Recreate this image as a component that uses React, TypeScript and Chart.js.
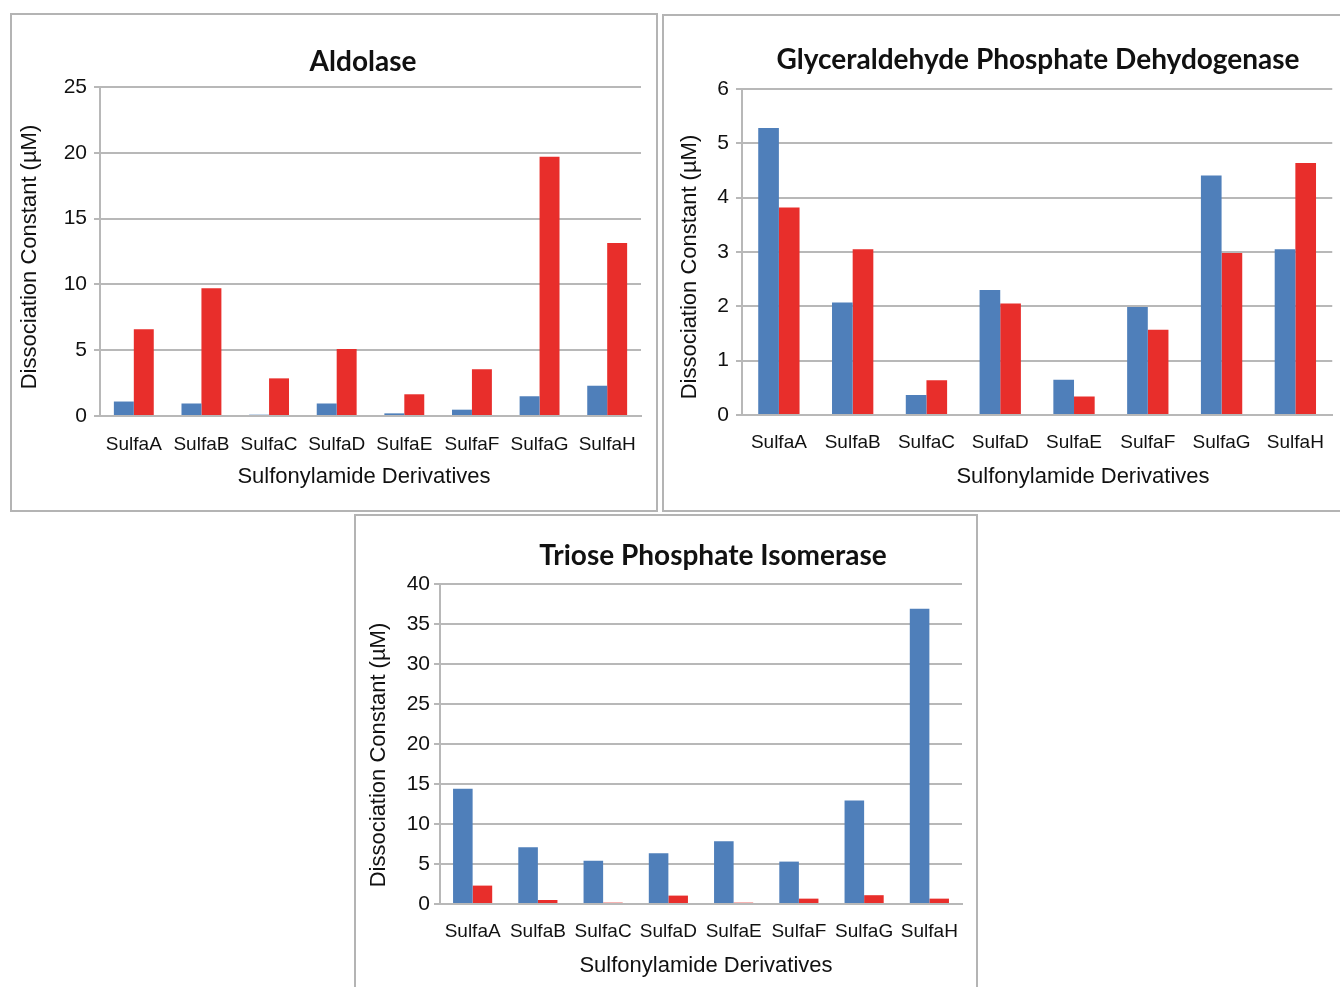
import React, { useEffect, useRef } from 'react';
import { Chart, registerables } from 'chart.js';

Chart.register(...registerables);

const categories = ['SulfaA', 'SulfaB', 'SulfaC', 'SulfaD', 'SulfaE', 'SulfaF', 'SulfaG', 'SulfaH'];

const aldolaseBlue = [1.1, 0.95, 0.1, 0.95, 0.2, 0.48, 1.5, 2.3];
const aldolaseRed = [6.6, 9.7, 2.86, 5.1, 1.65, 3.55, 19.7, 13.15];

const gapdhBlue = [5.28, 2.07, 0.37, 2.3, 0.65, 1.99, 4.41, 3.05];
const gapdhRed = [3.82, 3.05, 0.64, 2.05, 0.34, 1.57, 2.98, 4.64];

const tpiBlue = [14.4, 7.1, 5.4, 6.35, 7.85, 5.3, 12.95, 36.9];
const tpiRed = [2.3, 0.5, 0.17, 1.05, 0.17, 0.67, 1.1, 0.67];

const yTitle = 'Dissociation Constant (\u00B5M)';
const xTitle = 'Sulfonylamide Derivatives';

const BLUE = '#4F7FBA';
const RED = '#E82E2B';
const GRID = '#b8b8b8';
const FONT = '"Liberation Sans", Arial, sans-serif';

type PanelCfg = {
  title: string;
  blue: number[];
  red: number[];
  yMax: number;
  yStep: number;
  box: { left: number; top: number; width: number; height: number };
  plot: { left: number; right: number; top: number; bottom: number };
  titlePos: { x: number; y: number };
  xTitlePos: { x: number; y: number };
  yTitlePos: { x: number; y: number };
  xTickGap: number;
  yTickRight: number;
  catPct: number;
};

const panels: PanelCfg[] = [
  {
    title: 'Aldolase',
    blue: aldolaseBlue,
    red: aldolaseRed,
    yMax: 25,
    yStep: 5,
    box: { left: 10, top: 13, width: 648, height: 499 },
    plot: { left: 90, right: 631, top: 74, bottom: 403 },
    titlePos: { x: 353, y: 49 },
    xTitlePos: { x: 354, y: 464 },
    yTitlePos: { x: 20, y: 244 },
    xTickGap: 17,
    yTickRight: 77,
    catPct: 0.59,
  },
  {
    title: 'Glyceraldehyde Phosphate Dehydogenase',
    blue: gapdhBlue,
    red: gapdhRed,
    yMax: 6,
    yStep: 1,
    box: { left: 662, top: 14, width: 690, height: 498 },
    plot: { left: 80, right: 676, top: 75, bottom: 401 },
    titlePos: { x: 376, y: 46 },
    xTitlePos: { x: 421, y: 463 },
    yTitlePos: { x: 28, y: 253 },
    xTickGap: 16,
    yTickRight: 67,
    catPct: 0.56,
  },
  {
    title: 'Triose Phosphate Isomerase',
    blue: tpiBlue,
    red: tpiRed,
    yMax: 40,
    yStep: 5,
    box: { left: 354, top: 514, width: 624, height: 490 },
    plot: { left: 86, right: 608, top: 70, bottom: 390 },
    titlePos: { x: 359, y: 42 },
    xTitlePos: { x: 352, y: 452 },
    yTitlePos: { x: 25, y: 241 },
    xTickGap: 16,
    yTickRight: 76,
    catPct: 0.6,
  },
];

const panelTextPlugin = {
  id: 'panelText',
  afterDraw(chart: any, _args: any, opts: any) {
    const ctx = chart.ctx;
    ctx.save();
    ctx.textAlign = 'center';
    ctx.textBaseline = 'middle';
    ctx.fillStyle = '#111';
    ctx.font = 'bold 28px Lato, "Open Sans", sans-serif';
    ctx.fillText(opts.title, opts.titlePos.x, opts.titlePos.y);
    ctx.font = '22px ' + FONT;
    ctx.fillText(opts.xTitle, opts.xTitlePos.x, opts.xTitlePos.y);
    ctx.translate(opts.yTitlePos.x, opts.yTitlePos.y);
    ctx.rotate(-Math.PI / 2);
    ctx.fillText(opts.yTitle, 0, 0);
    ctx.restore();
  },
};

function Panel({ cfg }: { cfg: PanelCfg }) {
  const ref = useRef<HTMLCanvasElement | null>(null);
  useEffect(() => {
    if (!ref.current) return;
    const { box, plot } = cfg;
    const canvasH = Math.min(box.height, 987 - box.top);
    const canvasW = Math.min(box.width, 1340 - box.left);
    const xh = 50;
    const chart = new Chart(ref.current, {
      type: 'bar',
      data: {
        labels: categories,
        datasets: [
          { label: 'blue', data: cfg.blue, backgroundColor: BLUE, categoryPercentage: cfg.catPct, barPercentage: 1 },
          { label: 'red', data: cfg.red, backgroundColor: RED, categoryPercentage: cfg.catPct, barPercentage: 1 },
        ],
      },
      plugins: [panelTextPlugin],
      options: {
        animation: false,
        responsive: false,
        maintainAspectRatio: false,
        layout: {
          padding: {
            left: 0,
            top: plot.top,
            right: canvasW - plot.right,
            bottom: canvasH - plot.bottom - xh,
          },
        },
        plugins: {
          legend: { display: false },
          tooltip: { enabled: false },
          title: { display: false },
          panelText: {
            title: cfg.title,
            titlePos: cfg.titlePos,
            xTitle,
            xTitlePos: cfg.xTitlePos,
            yTitle,
            yTitlePos: cfg.yTitlePos,
          },
        } as any,
        scales: {
          x: {
            grid: { display: false, drawTicks: false },
            border: { display: true, color: GRID, width: 2 },
            ticks: {
              color: '#111',
              padding: cfg.xTickGap,
              maxRotation: 0,
              autoSkip: false,
              font: { family: FONT, size: 19 },
            },
            title: { display: false },
            afterFit: (s: any) => {
              s.height = xh;
            },
          },
          y: {
            min: 0,
            max: cfg.yMax,
            grid: { color: GRID, lineWidth: 2, drawTicks: true, tickLength: 6 },
            border: { display: true, color: GRID, width: 2 },
            ticks: {
              stepSize: cfg.yStep,
              color: '#111',
              padding: plot.left - 6 - cfg.yTickRight,
              font: { family: FONT, size: 21 },
            },
            title: { display: false },
            afterFit: (s: any) => {
              s.width = plot.left;
            },
          },
        },
      } as any,
    });
    return () => chart.destroy();
  }, [cfg]);

  const { box } = cfg;
  const canvasH = Math.min(box.height, 987 - box.top);
  const canvasW = Math.min(box.width, 1340 - box.left);
  return (
    <>
      <div
        style={{
          position: 'absolute',
          left: box.left,
          top: box.top,
          width: box.width,
          height: box.height,
          border: '2px solid #b4b4b4',
          boxSizing: 'border-box',
          background: '#fff',
        }}
      />
      <canvas
        ref={ref}
        width={canvasW}
        height={canvasH}
        style={{ position: 'absolute', left: box.left, top: box.top, width: canvasW, height: canvasH }}
      />
    </>
  );
}

export default function App() {
  return (
    <div
      style={{
        position: 'absolute',
        left: 0,
        top: 0,
        width: 1340,
        height: 987,
        overflow: 'hidden',
        background: '#fff',
      }}
    >
      {panels.map((p) => (
        <Panel key={p.title} cfg={p} />
      ))}
    </div>
  );
}
